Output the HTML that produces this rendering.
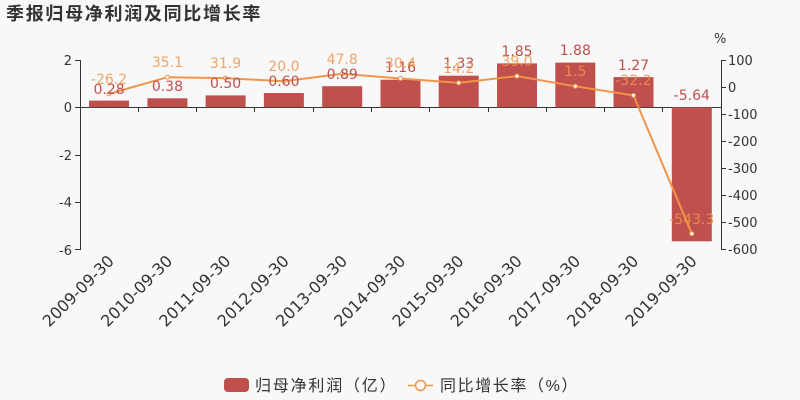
<!DOCTYPE html>
<html><head><meta charset="utf-8"><style>body{margin:0;background:#f8f8f8}svg{display:block}</style></head><body>
<svg width="800" height="400" xmlns="http://www.w3.org/2000/svg" font-family="Liberation Sans, DejaVu Sans, Noto Sans CJK SC, sans-serif">
<rect width="800" height="400" fill="#f8f8f8"/>
<text x="6" y="20" font-size="18" letter-spacing="1.7" font-weight="bold" fill="#333" font-family="Liberation Sans, Noto Sans CJK SC, sans-serif">季报归母净利润及同比增长率</text>
<g fill="#333" font-size="13" font-family="DejaVu Sans, sans-serif">
<text x="72" y="65" text-anchor="end">2</text>
<text x="72" y="112" text-anchor="end">0</text>
<text x="72" y="160" text-anchor="end">-2</text>
<text x="72" y="207" text-anchor="end">-4</text>
<text x="72" y="255" text-anchor="end">-6</text>
<text x="728" y="65">100</text><text x="728" y="92">0</text><text x="728" y="119">-100</text><text x="728" y="146">-200</text><text x="728" y="173">-300</text><text x="728" y="200">-400</text><text x="728" y="227">-500</text><text x="728" y="254">-600</text>
<text x="714" y="43">%</text>
</g>
<g stroke="#333" stroke-width="1">
<line x1="80.5" y1="60" x2="80.5" y2="250"/>
<line x1="75" y1="60.5" x2="80" y2="60.5"/><line x1="75" y1="107.5" x2="80" y2="107.5"/><line x1="75" y1="155.5" x2="80" y2="155.5"/><line x1="75" y1="202.5" x2="80" y2="202.5"/><line x1="75" y1="249.5" x2="80" y2="249.5"/>
<line x1="721.5" y1="60" x2="721.5" y2="250"/>
<line x1="721" y1="60.5" x2="726" y2="60.5"/><line x1="721" y1="87.5" x2="726" y2="87.5"/><line x1="721" y1="114.5" x2="726" y2="114.5"/><line x1="721" y1="141.5" x2="726" y2="141.5"/><line x1="721" y1="168.5" x2="726" y2="168.5"/><line x1="721" y1="195.5" x2="726" y2="195.5"/><line x1="721" y1="222.5" x2="726" y2="222.5"/><line x1="721" y1="249.5" x2="726" y2="249.5"/>
<line x1="80" y1="107.5" x2="721" y2="107.5"/>
<g><line x1="138.5" y1="107" x2="138.5" y2="112"/><line x1="196.5" y1="107" x2="196.5" y2="112"/><line x1="254.5" y1="107" x2="254.5" y2="112"/><line x1="313.5" y1="107" x2="313.5" y2="112"/><line x1="371.5" y1="107" x2="371.5" y2="112"/><line x1="429.5" y1="107" x2="429.5" y2="112"/><line x1="488.5" y1="107" x2="488.5" y2="112"/><line x1="546.5" y1="107" x2="546.5" y2="112"/><line x1="604.5" y1="107" x2="604.5" y2="112"/><line x1="662.5" y1="107" x2="662.5" y2="112"/></g>
</g>
<g fill="#c0504d">
<rect x="89" y="100.6" width="40" height="6.7"/>
<rect x="147.4" y="98.3" width="40" height="9"/>
<rect x="205.6" y="95.4" width="40" height="11.9"/>
<rect x="263.9" y="93" width="40" height="14.3"/>
<rect x="322.2" y="86.2" width="40" height="21.1"/>
<rect x="380.5" y="79.7" width="40" height="27.6"/>
<rect x="438.7" y="75.7" width="40" height="31.6"/>
<rect x="497" y="63.4" width="40" height="43.9"/>
<rect x="555.3" y="62.6" width="40" height="44.7"/>
<rect x="613.5" y="77.1" width="40" height="30.2"/>
<rect x="671.8" y="107.3" width="40" height="134"/>
</g>
<polyline fill="none" stroke="#f0954a" stroke-width="2" points="109.1,93.8 167.4,77.2 225.6,78.1 283.9,81.3 342.2,73.8 400.5,78.5 458.7,82.9 517,76.1 575.3,86.3 633.5,95.4 691.8,233.7"/>
<g fill="#fff" stroke="#f0954a" stroke-width="1">
<circle cx="109.1" cy="93.8" r="2"/><circle cx="167.4" cy="77.2" r="2"/><circle cx="225.6" cy="78.1" r="2"/><circle cx="283.9" cy="81.3" r="2"/><circle cx="342.2" cy="73.8" r="2"/><circle cx="400.5" cy="78.5" r="2"/><circle cx="458.7" cy="82.9" r="2"/><circle cx="517" cy="76.1" r="2"/><circle cx="575.3" cy="86.3" r="2"/><circle cx="633.5" cy="95.4" r="2"/><circle cx="691.8" cy="233.7" r="2"/>
</g>
<g fill="#c0504d" font-size="14" text-anchor="middle" font-family="DejaVu Sans, sans-serif">
<text x="109.1" y="94">0.28</text><text x="167.4" y="91">0.38</text><text x="225.6" y="88">0.50</text><text x="283.9" y="86">0.60</text><text x="342.2" y="79">0.89</text><text x="400.5" y="72">1.16</text><text x="458.7" y="68">1.33</text><text x="517" y="56">1.85</text><text x="575.3" y="55">1.88</text><text x="633.5" y="70">1.27</text><text x="691.8" y="100">-5.64</text>
</g>
<g fill="#f0954a" fill-opacity="0.85" font-size="14" text-anchor="middle" font-family="DejaVu Sans, sans-serif">
<text x="109.1" y="84">-26.2</text><text x="167.4" y="67">35.1</text><text x="225.6" y="68">31.9</text><text x="283.9" y="71">20.0</text><text x="342.2" y="64">47.8</text><text x="400.5" y="68">30.4</text><text x="458.7" y="73">14.2</text><text x="517" y="66">39.0</text><text x="575.3" y="76">1.5</text><text x="633.5" y="85">-32.2</text><text x="691.8" y="224">-543.3</text>
</g>
<g fill="#333" font-size="16" text-anchor="end" font-family="DejaVu Sans, sans-serif">
<text transform="translate(115,262) rotate(-45)">2009-09-30</text>
<text transform="translate(173.4,262) rotate(-45)">2010-09-30</text>
<text transform="translate(231.6,262) rotate(-45)">2011-09-30</text>
<text transform="translate(289.9,262) rotate(-45)">2012-09-30</text>
<text transform="translate(348.2,262) rotate(-45)">2013-09-30</text>
<text transform="translate(406.5,262) rotate(-45)">2014-09-30</text>
<text transform="translate(464.7,262) rotate(-45)">2015-09-30</text>
<text transform="translate(523,262) rotate(-45)">2016-09-30</text>
<text transform="translate(581.3,262) rotate(-45)">2017-09-30</text>
<text transform="translate(639.5,262) rotate(-45)">2018-09-30</text>
<text transform="translate(697.8,262) rotate(-45)">2019-09-30</text>
</g>
<rect x="224" y="378" width="25" height="14" rx="4" fill="#c0504d"/>
<text x="255" y="391" font-size="16" letter-spacing="1.8" fill="#333" font-family="Liberation Sans, Noto Sans CJK SC, sans-serif">归母净利润（亿）</text>
<line x1="408" y1="385.5" x2="433" y2="385.5" stroke="#f0954a" stroke-width="1.5"/>
<circle cx="420.5" cy="385.5" r="5" fill="#f8f8f8" stroke="#f0954a" stroke-width="1.5"/>
<text x="440" y="391" font-size="16" letter-spacing="1.6" fill="#333" font-family="Liberation Sans, Noto Sans CJK SC, sans-serif">同比增长率（%）</text>
</svg>
</body></html>
